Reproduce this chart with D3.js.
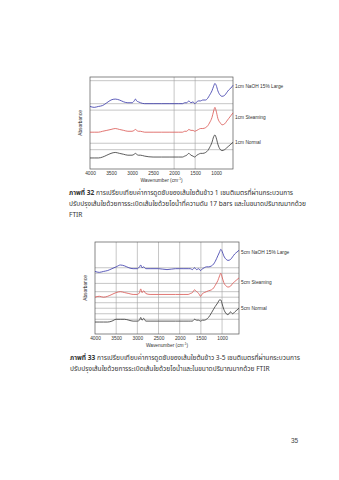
<!DOCTYPE html>
<html><head><meta charset="utf-8">
<script src="https://cdn.jsdelivr.net/npm/d3@7"></script>
<style>html,body{margin:0;padding:0;background:#fff;}svg{display:block;}</style>
</head><body>
<script>
const wavenumbers = [4000,3900,3800,3700,3600,3500,3400,3300,3200,3100,3000,2950,2920,2890,2850,2800,2700,2500,2300,2100,2000,1900,1800,1750,1700,1650,1600,1550,1510,1460,1420,1370,1320,1250,1200,1160,1100,1060,1030,1000,960,900,860,800,750,700,650,600];

const c1NaOH = [0.68,0.67,0.68,0.69,0.72,0.75,0.76,0.75,0.73,0.72,0.72,0.74,0.76,0.74,0.73,0.72,0.71,0.71,0.71,0.71,0.71,0.71,0.71,0.72,0.72,0.74,0.72,0.73,0.71,0.73,0.74,0.74,0.75,0.75,0.77,0.80,0.85,0.90,0.93,0.91,0.85,0.80,0.79,0.80,0.83,0.86,0.88,0.91];
const c1Steam = [0.40,0.40,0.40,0.41,0.42,0.43,0.44,0.43,0.42,0.41,0.41,0.42,0.43,0.42,0.41,0.41,0.40,0.40,0.40,0.40,0.40,0.40,0.40,0.41,0.41,0.43,0.42,0.42,0.41,0.42,0.43,0.44,0.44,0.45,0.47,0.50,0.56,0.63,0.67,0.63,0.55,0.50,0.48,0.49,0.52,0.55,0.58,0.61];
const c1Normal = [0.12,0.12,0.12,0.13,0.15,0.17,0.18,0.17,0.16,0.15,0.15,0.16,0.17,0.16,0.15,0.15,0.14,0.13,0.13,0.13,0.13,0.13,0.13,0.14,0.15,0.17,0.15,0.14,0.13,0.15,0.16,0.17,0.17,0.18,0.20,0.23,0.29,0.35,0.37,0.34,0.27,0.21,0.20,0.21,0.23,0.25,0.27,0.29];

const c2NaOH = [0.68,0.67,0.68,0.69,0.71,0.73,0.75,0.74,0.72,0.71,0.71,0.73,0.75,0.72,0.73,0.71,0.71,0.71,0.70,0.71,0.71,0.71,0.71,0.71,0.70,0.72,0.70,0.71,0.69,0.71,0.72,0.73,0.73,0.74,0.76,0.79,0.85,0.89,0.92,0.90,0.85,0.81,0.80,0.81,0.84,0.87,0.89,0.91];
const c2Steam = [0.40,0.41,0.40,0.41,0.43,0.45,0.46,0.45,0.44,0.43,0.43,0.45,0.49,0.45,0.47,0.44,0.43,0.43,0.43,0.43,0.43,0.43,0.43,0.44,0.45,0.48,0.46,0.44,0.41,0.44,0.45,0.46,0.47,0.48,0.50,0.53,0.58,0.63,0.66,0.62,0.56,0.52,0.51,0.52,0.55,0.57,0.59,0.61];
const c2Normal = [0.13,0.13,0.13,0.13,0.14,0.16,0.16,0.16,0.15,0.14,0.14,0.15,0.18,0.15,0.17,0.14,0.14,0.14,0.14,0.14,0.14,0.14,0.14,0.14,0.14,0.16,0.15,0.15,0.14,0.15,0.15,0.16,0.18,0.23,0.27,0.30,0.34,0.37,0.37,0.33,0.27,0.22,0.21,0.24,0.22,0.24,0.26,0.28];

const xTicks = [4000,3500,3000,2500,2000,1500,1000];
const labels1 = ["1cm NaOH 15% Large","1cm Steaming","1cm Normal"];
const labels2 = ["5cm NaOH 15% Large","5cm Steaming","5cm Normal"];
const yGrid1 = [0.96,0.71,0.64,0.28,0.21];
const yGrid2 = [0.72,0.66,0.55,0.46,0.40,0.34,0.28,0.22,0.16];
const xGrid1 = [2000,1500];
const xGrid2 = [3500,3000,2500,2000,1500,1000];
const colors = ["#3434a8","#d9534f","#333333"];

const caption1 = ["ภาพที่ 32", " การเปรียบเทียบค่าการดูดซับของเส้นใยต้นข้าว 1 เซนติเมตรที่ผ่านกระบวนการ",
  "ปรับปรุงเส้นใยด้วยการระเบิดเส้นใยด้วยไอน้ำที่ความดัน 17 bars และในขนาดปริมาณมากด้วย", "FTIR"];
const caption2 = ["ภาพที่ 33", " การเปรียบเทียบค่าการดูดซับของเส้นใยต้นข้าว 3-5 เซนติเมตรที่ผ่านกระบวนการ",
  "ปรับปรุงเส้นใยด้วยการระเบิดเส้นใยด้วยไอน้ำและในขนาดปริมาณมากด้วย FTIR"];
const pageNumber = "35";

const svg = d3.select("body").append("svg").attr("width",339).attr("height",480);
const thaiFont = "'Noto Sans Thai','Loma','Garuda','Tahoma','DejaVu Sans',sans-serif";
const latin = "Arial, 'Liberation Sans', sans-serif";

function drawChart(cfg){
  const {x0,x1,y0,y1,series,labels,yGrid,xGrid,labelYs,ylabX} = cfg;
  const x = d3.scaleLinear().domain([4000,600]).range([x0,x1]);
  const y = d3.scaleLinear().domain([0,1]).range([y1,y0]);
  const g = svg.append("g");
  g.append("g").selectAll("line").data(yGrid).join("line")
    .attr("x1",x0).attr("x2",x1).attr("y1",d=>y(d)).attr("y2",d=>y(d))
    .attr("stroke","#a0a0a0").attr("stroke-width",0.6);
  g.append("g").selectAll("line").data(xGrid).join("line")
    .attr("x1",d=>x(d)).attr("x2",d=>x(d)).attr("y1",y0).attr("y2",y1)
    .attr("stroke","#a0a0a0").attr("stroke-width",0.6);
  g.append("rect").attr("x",x0).attr("y",y0).attr("width",x1-x0).attr("height",y1-y0)
    .attr("fill","none").attr("stroke","#555").attr("stroke-width",0.7);
  const line = d3.line().x((d,i)=>x(wavenumbers[i])).y(d=>y(d)).curve(d3.curveMonotoneX);
  series.forEach((s,k)=>{
    g.append("path").datum(s).attr("d",line).attr("fill","none")
      .attr("stroke",colors[k]).attr("stroke-width",0.8);
  });
  const ax = d3.axisBottom(x).tickValues(xTicks).tickSize(0).tickPadding(3).tickFormat(d3.format("d"));
  const axg = g.append("g").attr("transform",`translate(0,${y1})`).call(ax);
  axg.select(".domain").remove();
  axg.selectAll("text").attr("font-size",4.8).attr("font-family",latin).attr("fill","#333");
  labels.forEach((t,k)=>{
    g.append("text").attr("x",x1+2).attr("y",labelYs[k]).attr("font-size",4.8)
      .attr("font-family",latin).attr("fill","#333").attr("dominant-baseline","middle").text(t);
  });
  g.append("text").attr("transform",`translate(${ylabX},${(y0+y1)/2}) rotate(-90)`)
    .attr("text-anchor","middle").attr("font-size",4.8).attr("font-family",latin).attr("fill","#333").text("Absorbance");
  const wt = g.append("text").attr("x",(x0+x1)/2).attr("y",y1+12.5).attr("text-anchor","middle")
    .attr("font-size",4.8).attr("font-family",latin).attr("fill","#333");
  wt.append("tspan").text("Wavenumber (cm");
  wt.append("tspan").attr("dy",-2).attr("font-size",3.2).text("-1");
  wt.append("tspan").attr("dy",2).text(")");
}

drawChart({x0:90,x1:233,y0:77,y1:169,series:[c1NaOH,c1Steam,c1Normal],labels:labels1,
  yGrid:yGrid1,xGrid:xGrid1,labelYs:[87,118,143],ylabX:82});
drawChart({x0:95,x1:239,y0:242,y1:334,series:[c2NaOH,c2Steam,c2Normal],labels:labels2,
  yGrid:yGrid2,xGrid:xGrid2,labelYs:[253,283,309],ylabX:87});

function caption(lines, x, y, lh){
  const t1 = svg.append("text").attr("x",x).attr("y",y).attr("font-size",6.6).attr("font-family",thaiFont).attr("fill","#333");
  t1.append("tspan").attr("font-weight","bold").text(lines[0]);
  t1.append("tspan").text(lines[1]);
  for(let i=2;i<lines.length;i++){
    svg.append("text").attr("x",x).attr("y",y+lh*(i-1)).attr("font-size",6.6).attr("font-family",thaiFont).attr("fill","#333").text(lines[i]);
  }
}
caption(caption1, 69, 195, 11);
caption(caption2, 70, 360, 11);
svg.append("text").attr("x",291).attr("y",443).attr("font-size",6.5).attr("font-family",latin).attr("fill","#444").text(pageNumber);
</script>
</body></html>
